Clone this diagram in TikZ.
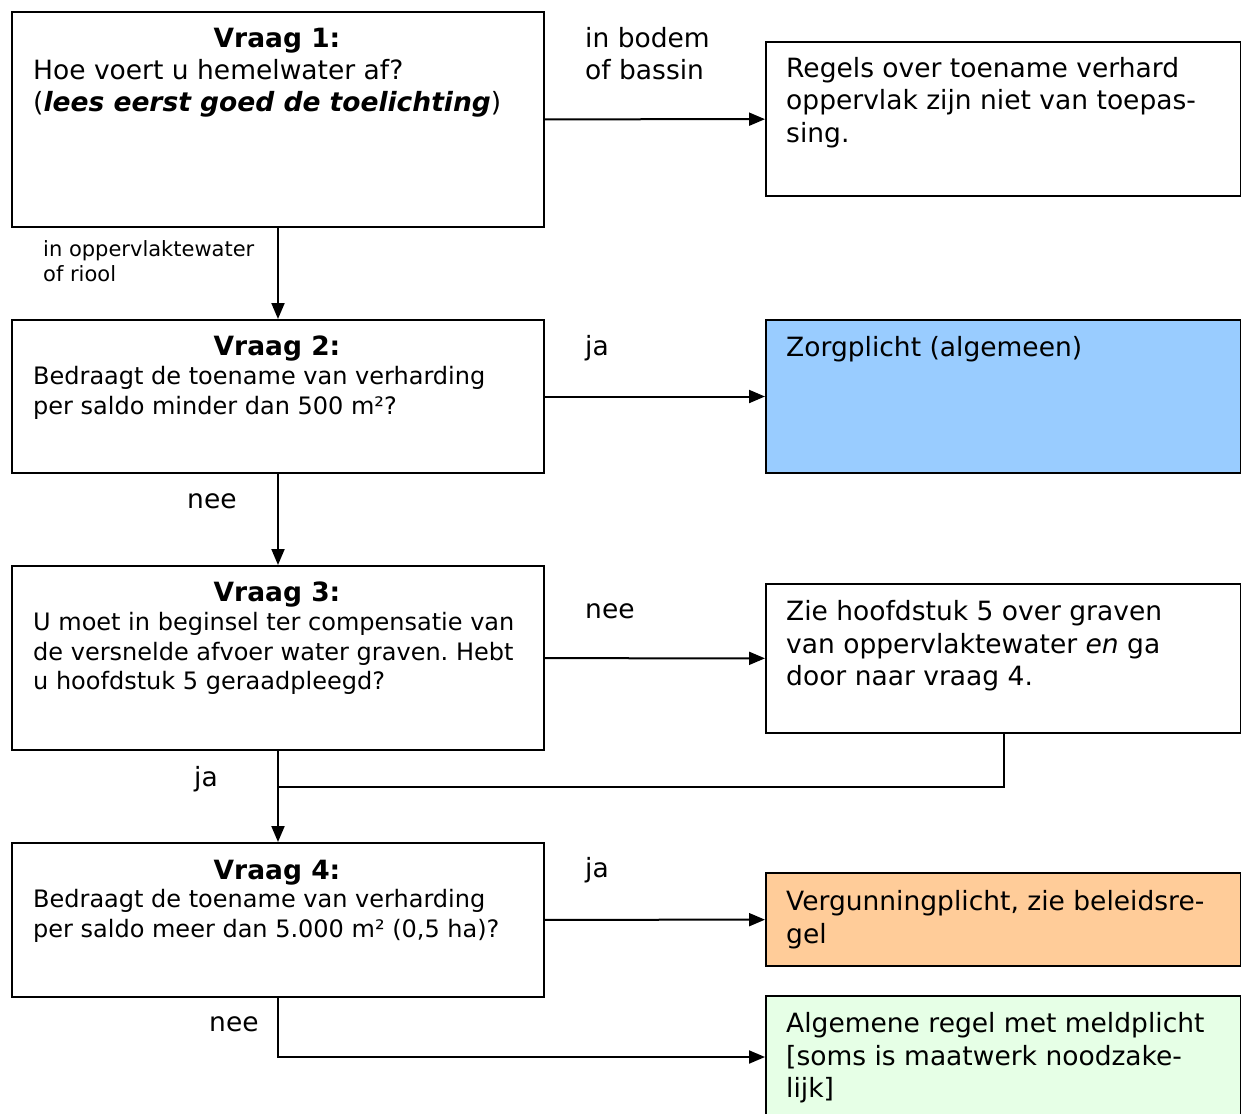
\documentclass[tikz,border=0pt]{standalone}
\usepackage{fontspec}
\setmainfont{DejaVu Sans}
\usetikzlibrary{arrows.meta}
\definecolor{zorgblauw}{HTML}{99CCFF}
\definecolor{vergoranje}{HTML}{FFCC99}
\definecolor{meldgroen}{HTML}{E6FFE6}
\newcommand{\groot}{\fontsize{26.5}{32.5}\selectfont}
\newcommand{\middel}{\fontsize{24}{29.5}\selectfont}
\newcommand{\klein}{\fontsize{21}{25}\selectfont}
\frenchspacing

\begin{document}
\begin{tikzpicture}[x=1pt,y=-1pt,
	kader/.style={draw, line width=2pt, anchor=north west, inner sep=0pt},
	vraagkader/.style={kader, minimum width=532pt},
	uitkomst/.style={kader, minimum width=475pt},
	kop/.style={anchor=base, font=\groot\bfseries, inner sep=0pt},
	tekst/.style={anchor=base west, align=left, inner sep=0pt, font=#1},
	tekst/.default=\groot,
	pijl/.style={line width=2pt, -{Triangle[length=16pt,width=13pt]}}]
	\useasboundingbox (0,0) rectangle (1241,1113);

	\node[vraagkader, minimum height=215pt] (q1) at (11,11) {};
	\node[uitkomst, minimum height=154pt] (r1) at (765,41) {};
	\node[vraagkader, minimum height=153pt] (q2) at (11,319) {};
	\node[uitkomst, fill=zorgblauw, minimum height=153pt] (r2) at (765,319) {};
	\node[vraagkader, minimum height=184pt] (q3) at (11,565) {};
	\node[uitkomst, minimum height=149pt] (r3) at (765,583) {};
	\node[vraagkader, minimum height=154pt] (q4) at (11,842) {};
	\node[uitkomst, fill=vergoranje, minimum height=93pt] (r4) at (765,872) {};
	\node[uitkomst, fill=meldgroen, minimum height=122pt] (r5) at (765,995) {};
	\coordinate (samen) at (277,787);

	% multi-line texts sit on the baseline of their last line
	\node[kop] (q1kop) at (277,47.5) {Vraag 1:};
	\node[tekst] (q1tekst) at (33,112) {Hoe voert u hemelwater af?\\(\textbf{\textit{lees eerst goed de toelichting}})};
	\node[kop] (q2kop) at (277,355.5) {Vraag 2:};
	\node[tekst=\middel] (q2tekst) at (33,414) {Bedraagt de toename van verharding\\per saldo minder dan 500 m²?};
	\node[kop] (q3kop) at (277,601.5) {Vraag 3:};
	\node[tekst=\middel] (q3tekst) at (33,689.5) {U moet in beginsel ter compensatie van\\de versnelde afvoer water graven. Hebt\\u hoofdstuk 5 geraadpleegd?};
	\node[kop] (q4kop) at (277,879.5) {Vraag 4:};
	\node[tekst=\middel] (q4tekst) at (33,937) {Bedraagt de toename van verharding\\per saldo meer dan 5.000 m² (0,5 ha)?};

	\node[tekst] (r1tekst) at (786,142.5) {Regels over toename verhard\\oppervlak zijn niet van toepas-\\sing.};
	\node[tekst] (r2tekst) at (786,356.5) {Zorgplicht (algemeen)};
	\node[tekst] (r3tekst) at (786,685.5) {Zie hoofdstuk 5 over graven\\van oppervlaktewater \textit{en} ga\\door naar vraag 4.};
	\node[tekst] (r4tekst) at (786,943) {Vergunningplicht, zie beleidsre-\\gel};
	\node[tekst] (r5tekst) at (786,1097.5) {Algemene regel met meldplicht\\{[}soms is maatwerk noodzake-\\lijk]};

	\node[tekst] (bodem) at (585,80) {in bodem\\of bassin};
	\node[tekst=\klein] (riool) at (43,281.5) {in oppervlaktewater\\of riool};
	\node[tekst] (ja2) at (585,355) {ja};
	\node[tekst] (nee2) at (187,508) {nee};
	\node[tekst] (nee3) at (585,618) {nee};
	\node[tekst] (ja3) at (194,786) {ja};
	\node[tekst] (ja4) at (585,877) {ja};
	\node[tekst] (nee4) at (209,1031) {nee};

	\draw[pijl] (q1) -- (r1);
	\draw[pijl] (q1) -- (q2);
	\draw[pijl] (q2) -- (r2);
	\draw[pijl] (q2) -- (q3);
	\draw[pijl] (q3) -- (r3);
	\draw[pijl] (q3) -- (q4);
	\draw[line width=2pt] (r3.south) |- (samen);
	\draw[pijl] (q4) -- (r4);
	\draw[pijl] (q4.south) |- (r5.west);
\end{tikzpicture}
\end{document}
